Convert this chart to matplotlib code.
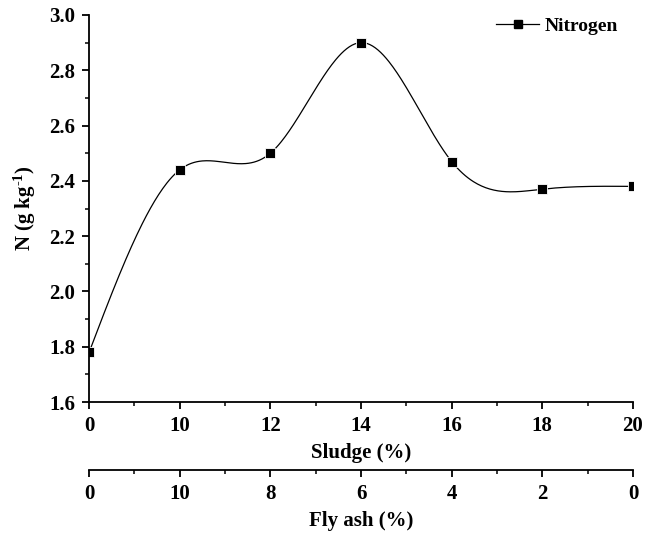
import matplotlib
matplotlib.use("Agg")
import matplotlib.pyplot as plt
import numpy as np
from matplotlib.ticker import AutoMinorLocator

plt.rcParams['font.family'] = ['Liberation Serif', 'DejaVu Serif']
plt.rcParams['font.weight'] = 'bold'
plt.rcParams['mathtext.fontset'] = 'custom'
plt.rcParams['mathtext.rm'] = 'Liberation Serif'
plt.rcParams['mathtext.bf'] = 'Liberation Serif:bold'
plt.rcParams['mathtext.default'] = 'bf'

# data
sludge = ['0', '10', '12', '14', '16', '18', '20']
fly_ash = ['0', '10', '8', '6', '4', '2', '0']
nitrogen = [1.78, 2.44, 2.50, 2.90, 2.47, 2.37, 2.38]


def natural_spline(x, y, xs):
    # plain natural cubic spline, only for the smooth connecting line
    x = np.asarray(x, float)
    y = np.asarray(y, float)
    n = len(x)
    h = np.diff(x)
    A = np.zeros((n, n))
    b = np.zeros(n)
    A[0, 0] = 1
    A[-1, -1] = 1
    for i in range(1, n - 1):
        A[i, i - 1] = h[i - 1]
        A[i, i] = 2 * (h[i - 1] + h[i])
        A[i, i + 1] = h[i]
        b[i] = 3 * ((y[i + 1] - y[i]) / h[i] - (y[i] - y[i - 1]) / h[i - 1])
    c = np.linalg.solve(A, b)
    out = np.empty_like(xs)
    for k, xv in enumerate(xs):
        i = min(np.searchsorted(x, xv, side='right') - 1, n - 2)
        i = max(i, 0)
        dx = xv - x[i]
        bi = (y[i + 1] - y[i]) / h[i] - h[i] * (2 * c[i] + c[i + 1]) / 3
        di = (c[i + 1] - c[i]) / (3 * h[i])
        out[k] = y[i] + bi * dx + c[i] * dx ** 2 + di * dx ** 3
    return out


pos = np.arange(len(sludge))
xs = np.linspace(0, len(sludge) - 1, 400)
ys = natural_spline(pos, nitrogen, xs)

fig = plt.figure(figsize=(6.6, 5.34), dpi=100)
ax = fig.add_axes([0.135, 0.247, 0.824, 0.725])

ax.plot(xs, ys, color='black', lw=0.9)
ax.plot(pos, nitrogen, 's', color='black', ms=6.5, mec='white', mew=0.6)
ax.plot([], [], 's-', color='black', ms=6, lw=0.9, label='Nitrogen')

ax.set_xlim(0, len(sludge) - 1)
ax.set_ylim(1.6, 3.0)
ax.set_yticks(np.arange(1.6, 3.01, 0.2))
ax.set_xticks(pos)
ax.set_xticklabels(sludge)
ax.xaxis.set_minor_locator(AutoMinorLocator(2))
ax.yaxis.set_minor_locator(AutoMinorLocator(2))

for s in ['top', 'right']:
    ax.spines[s].set_visible(False)
for s in ['left', 'bottom']:
    ax.spines[s].set_linewidth(1.3)
ax.tick_params(which='major', direction='out', length=5, width=1.3, labelsize=15, pad=5)
ax.tick_params(which='minor', direction='out', length=3, width=1.1)
ax.set_xlabel('Sludge (%)', fontsize=15, fontweight='bold', labelpad=5)
ax.set_ylabel('N (g kg$^{\\text{-1}}$)', fontsize=15, fontweight='bold', labelpad=8)

leg = ax.legend(loc='upper right', frameon=False, fontsize=14, handlelength=2.2,
                handletextpad=0.3, bbox_to_anchor=(1.005, 1.04))
for t in leg.get_texts():
    t.set_fontweight('bold')

# second x-axis for fly ash below
ax2 = ax.twiny()
ax2.set_xlim(ax.get_xlim())
ax2.xaxis.set_ticks_position('bottom')
ax2.xaxis.set_label_position('bottom')
ax2.spines['bottom'].set_position(('outward', 49))
for s in ['top', 'right', 'left']:
    ax2.spines[s].set_visible(False)
ax2.spines['bottom'].set_linewidth(1.3)
ax2.set_xticks(pos)
ax2.set_xticklabels(fly_ash)
ax2.xaxis.set_minor_locator(AutoMinorLocator(2))
ax2.tick_params(which='major', direction='out', length=5, width=1.3, labelsize=15, pad=5)
ax2.tick_params(which='minor', direction='out', length=3, width=1.1)
ax2.set_xlabel('Fly ash (%)', fontsize=15, fontweight='bold', labelpad=5)

fig.savefig('out.png', dpi=100)
